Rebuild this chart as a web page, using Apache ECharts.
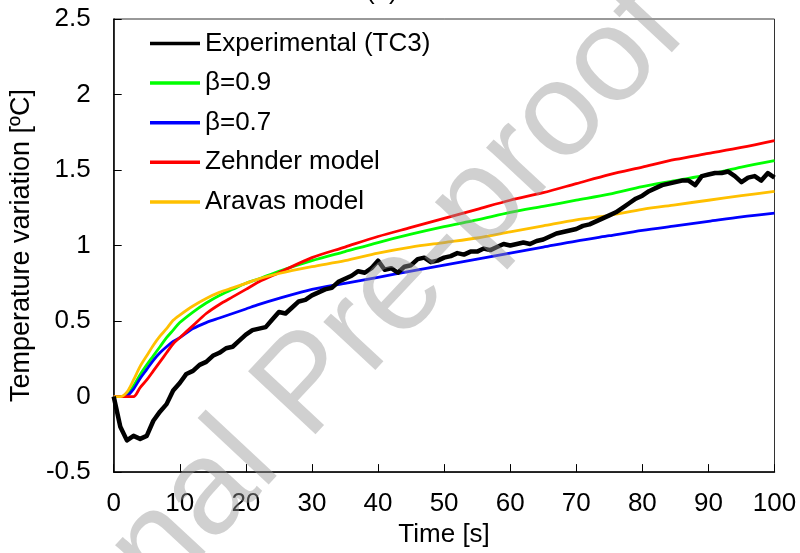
<!DOCTYPE html>
<html>
<head>
<meta charset="utf-8">
<script src="https://cdn.jsdelivr.net/npm/echarts@6/dist/echarts.min.js"></script>
<style>html,body{margin:0;padding:0;background:#fff}#c{width:800px;height:553px}</style>
</head>
<body>
<div id="c"></div>
<script>
// ---- data ----
const expTime = [0,1,2,3,4,5,6,7,8,9,10,11,12,13,14,15,16,17,18,19,20,21,22,23,24,25,26,27,28,29,30,31,32,33,34,35,36,37,38,39,40,41,42,43,44,45,46,47,48,49,50,51,52,53,54,55,56,57,58,59,60,61,62,63,64,65,66,67,68,69,70,71,72,73,74,75,76,77,78,79,80,81,82,83,84,85,86,87,88,89,90,91,92,93,94,95,96,97,98,99,100];
const expValues = [0,-0.20,-0.29,-0.26,-0.28,-0.26,-0.16,-0.10,-0.05,0.04,0.09,0.15,0.17,0.21,0.23,0.27,0.29,0.32,0.33,0.37,0.41,0.44,0.45,0.46,0.51,0.56,0.55,0.59,0.63,0.64,0.67,0.69,0.71,0.72,0.76,0.78,0.80,0.83,0.82,0.85,0.90,0.84,0.85,0.82,0.86,0.87,0.91,0.92,0.89,0.90,0.92,0.93,0.95,0.94,0.96,0.96,0.98,0.97,0.99,1.01,1.00,1.01,1.02,1.01,1.03,1.04,1.06,1.08,1.09,1.10,1.11,1.13,1.14,1.16,1.18,1.20,1.22,1.25,1.28,1.31,1.33,1.36,1.38,1.40,1.41,1.42,1.43,1.43,1.40,1.46,1.47,1.48,1.48,1.49,1.46,1.42,1.45,1.46,1.43,1.48,1.45];

const modelTime = [0,1,2,3,4,5,6,7,8,9,10,12,14,16,18,20,22,25,30,35,40,45,50,55,60,65,70,75,80,85,90,95,100];
const beta09 = [0,0,0.01,0.07,0.145,0.21,0.27,0.33,0.39,0.44,0.49,0.56,0.62,0.67,0.71,0.75,0.78,0.83,0.90,0.96,1.02,1.075,1.125,1.17,1.22,1.26,1.30,1.34,1.39,1.43,1.47,1.52,1.563];
const beta07 = [0,0,0.005,0.05,0.12,0.18,0.24,0.29,0.33,0.365,0.39,0.45,0.49,0.52,0.55,0.58,0.61,0.65,0.71,0.75,0.79,0.83,0.87,0.91,0.95,0.99,1.03,1.065,1.10,1.13,1.16,1.19,1.215];
const zehnder = [0,0,0,0,0.06,0.11,0.17,0.23,0.29,0.35,0.39,0.47,0.55,0.61,0.66,0.71,0.76,0.82,0.92,0.99,1.06,1.12,1.18,1.24,1.30,1.35,1.41,1.47,1.52,1.57,1.61,1.65,1.695];
const aravas = [0,0,0.03,0.11,0.20,0.27,0.34,0.40,0.45,0.505,0.54,0.60,0.65,0.69,0.72,0.75,0.78,0.815,0.86,0.90,0.95,0.99,1.02,1.05,1.09,1.13,1.17,1.20,1.24,1.27,1.30,1.33,1.358];

const seriesNames = ['Experimental (TC3)','β=0.9','β=0.7','Zehnder model','Aravas model'];
const seriesColors = ['#000000','#00ff00','#0000ff','#ff0000','#ffc000'];
const xTicks = [0,100,10];
const yTicks = [-0.5,2.5,0.5];

function pairs(xs, ys){ return xs.map((x,i)=>[x, ys[i]]); }

const FONT = "'Liberation Sans', Arial, sans-serif";
const chart = echarts.init(document.getElementById('c'), null, {renderer:'canvas'});
const modelData = [beta09, beta07, zehnder, aravas];

const series = [{
  name: seriesNames[0], type:'line', data: pairs(expTime, expValues),
  showSymbol:false, symbol:'none', lineStyle:{color:seriesColors[0], width:4.5, join:'round'}, itemStyle:{color:seriesColors[0]}, z:3
}];
modelData.forEach((d,i)=>{
  series.push({
    name: seriesNames[i+1], type:'line', data: pairs(modelTime, d), smooth:0.3,
    showSymbol:false, symbol:'none', lineStyle:{color:seriesColors[i+1], width:2.8}, itemStyle:{color:seriesColors[i+1]}, z:2
  });
});

chart.setOption({
  animation:false,
  backgroundColor:'#fff',
  textStyle:{fontFamily:FONT},
  grid:{left:111.5, right:25.5, top:19, bottom:80, show:true, borderColor:'#333', borderWidth:1, containLabel:false},
  legend:{
    orient:'vertical', left:150, top:30.5, padding:0, itemWidth:50, itemHeight:3.5, itemGap:13.6,
    icon:'rect', data: seriesNames,
    textStyle:{fontSize:26, color:'#000', fontFamily:FONT, lineHeight:26}
  },
  xAxis:{
    type:'value', min:xTicks[0], max:xTicks[1], interval:xTicks[2],
    name:'Time [s]', nameLocation:'middle', nameGap:44,
    nameTextStyle:{fontSize:26, color:'#000', fontFamily:FONT},
    axisLine:{show:true, onZero:false, lineStyle:{color:'#000', width:1.5}},
    axisTick:{show:true, inside:true, length:8, lineStyle:{color:'#000', width:1}},
    axisLabel:{fontSize:26, color:'#000', margin:19, fontFamily:FONT},
    splitLine:{show:false}
  },
  yAxis:{
    type:'value', min:yTicks[0], max:yTicks[1], interval:yTicks[2],
    name:'Temperature variation [ºC]', nameLocation:'middle', nameGap:67,
    nameTextStyle:{fontSize:27, color:'#000', fontFamily:FONT},
    axisLine:{show:true, onZero:false, lineStyle:{color:'#000', width:1.5}},
    axisTick:{show:true, inside:true, length:8, lineStyle:{color:'#000', width:1}},
    axisLabel:{fontSize:26, color:'#000', margin:23, fontFamily:FONT},
    splitLine:{show:false}
  },
  graphic:[
    {type:'text', left:366, top:-21, z:50, style:{text:'(a)', fontSize:26, fill:'#000', fontFamily:FONT}},
    {type:'text', x:309, y:387, rotation:0.82, z:100, silent:true,
     style:{text:'Journal Pre-proof', fontSize:134, fontFamily:FONT, fill:'rgba(150,150,150,0.45)', align:'center', verticalAlign:'middle'}}
  ],
  series: series
});
</script>
</body>
</html>
